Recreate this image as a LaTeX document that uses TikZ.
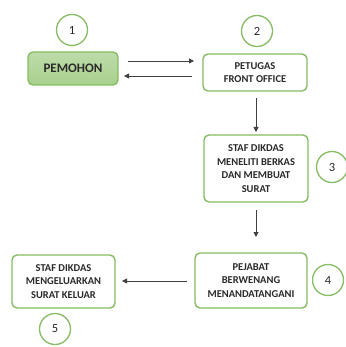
\documentclass[tikz,border=0pt]{standalone}
\usepackage{fontspec}
\setmainfont{Carlito}
\usetikzlibrary{arrows.meta}
\definecolor{grn}{HTML}{86BC63}
\definecolor{grnfill}{HTML}{A8D08D}
\definecolor{txt}{HTML}{2A2A2A}
\tikzset{
  boxstyle/.style={draw=grn, line width=1.4pt, rounded corners=5pt, fill=white, align=center, font=\bfseries\fontsize{10.5}{13.5}\selectfont, text=txt, inner sep=0pt},
  numcirc/.style={draw=grn, line width=1.3pt, circle, minimum size=31pt, inner sep=0pt, font=\fontsize{12.5}{14}\selectfont, text=txt, fill=white},
  conn/.style={draw=black!75, line width=0.9pt, -{Triangle[length=5pt,width=5pt]}}
}
\begin{document}
\begin{tikzpicture}[x=1pt,y=-1pt]
\useasboundingbox (0,0) rectangle (345,347);
% boxes
\node[boxstyle, top color=grnfill!75, bottom color=grnfill, minimum width=90pt, minimum height=33pt, font=\bfseries\fontsize{13}{15}\selectfont] (pem) at (73,68.5) {PEMOHON};
\node[boxstyle, minimum width=104pt, minimum height=37pt] (fo) at (255,72.5) {PETUGAS\\FRONT OFFICE};
\node[boxstyle, minimum width=104pt, minimum height=67pt] (staf) at (256,168.5) {STAF DIKDAS\\MENELITI BERKAS\\DAN MEMBUAT\\SURAT};
\node[boxstyle, minimum width=112pt, minimum height=55pt] (pej) at (251,280.5) {PEJABAT\\BERWENANG\\MENANDATANGANI};
\node[boxstyle, minimum width=103pt, minimum height=53pt] (kel) at (63.5,281.5) {STAF DIKDAS\\MENGELUARKAN\\SURAT KELUAR};
% number circles
\node[numcirc] (c1) at (72,30) {1};
\node[numcirc] (c2) at (257,31) {2};
\node[numcirc] (c3) at (332,167) {3};
\node[numcirc] (c4) at (328,280) {4};
\node[numcirc] (c5) at (55,329) {5};
% connectors
\coordinate (a1s) at (128,61); \coordinate (a1e) at (194,61);
\coordinate (a2s) at (192,76); \coordinate (a2e) at (124,76);
\draw[conn] (a1s) -- (a1e);
\draw[conn] (a2s) -- (a2e);
\coordinate (v1s) at (256,98); \coordinate (v1e) at (256,132);
\draw[conn] (v1s) -- (v1e);
\coordinate (v2s) at (256,210); \coordinate (v2e) at (256,237);
\draw[conn] (v2s) -- (v2e);
\coordinate (h3s) at (187,281); \coordinate (h3e) at (122,281);
\draw[conn] (h3s) -- (h3e);
\end{tikzpicture}
\end{document}
